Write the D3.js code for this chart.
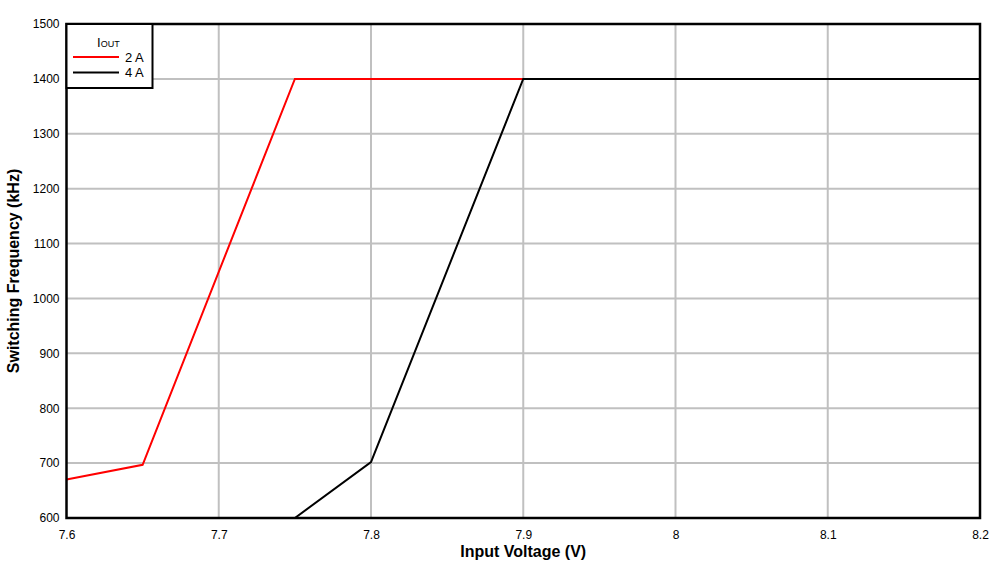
<!DOCTYPE html>
<html>
<head>
<meta charset="utf-8">
<script src="https://cdn.jsdelivr.net/npm/d3@7"></script>
<style>
body { margin: 0; background: #fff; }
text { font-family: "Liberation Sans", Arial, sans-serif; fill: #000; }
.tick text { font-size: 12px; }
.axisTitle { font-size: 16px; font-weight: bold; }
.grid line { stroke: #c0c0c0; stroke-width: 2; }
</style>
</head>
<body>
<script>
// series values
var series = ["2 A", "4 A"];
var colors = ["#ff0000", "#000000"];
var vin2A = [7.6, 7.65, 7.75, 7.9, 8.2];
var freq2A = [670, 697, 1400, 1400, 1400];
var vin4A = [7.75, 7.8, 7.9, 8.2];
var freq4A = [600, 702, 1400, 1400];

// tick labels
var xTicks = [7.6, 7.7, 7.8, 7.9, 8, 8.1, 8.2];
var yTicks = [600, 700, 800, 900, 1000, 1100, 1200, 1300, 1400, 1500];

window.onload = drawChart;

function drawChart(){
    var width = 1006,
        height = 570;
    var left = 66.5, top = 24, right = 980, bottom = 518;

    var svg = d3.select("body")
        .append("svg")
        .attr("width", width)
        .attr("height", height);

    var x = d3.scaleLinear().domain([7.6, 8.2]).range([left, right]);
    var y = d3.scaleLinear().domain([600, 1500]).range([bottom, top]);

    //grid lines
    svg.append("g")
        .attr("class", "grid")
        .selectAll("line")
        .data(xTicks.slice(1, -1))
        .enter()
        .append("line")
        .attr("x1", function(d){ return x(d); })
        .attr("x2", function(d){ return x(d); })
        .attr("y1", top)
        .attr("y2", bottom);

    svg.append("g")
        .attr("class", "grid")
        .selectAll("line")
        .data(yTicks.slice(1, -1))
        .enter()
        .append("line")
        .attr("x1", left)
        .attr("x2", right)
        .attr("y1", function(d){ return y(d); })
        .attr("y2", function(d){ return y(d); });

    //axes, labels only
    var xAxis = svg.append("g")
        .attr("transform", "translate(0," + bottom + ")")
        .call(d3.axisBottom(x).tickValues(xTicks).tickSize(0).tickPadding(12)
            .tickFormat(function(d){ return String(d); }));
    xAxis.select(".domain").remove();

    var yAxis = svg.append("g")
        .attr("transform", "translate(" + left + ",0)")
        .call(d3.axisLeft(y).tickValues(yTicks).tickSize(0).tickPadding(7)
            .tickFormat(d3.format("d")));
    yAxis.select(".domain").remove();
    svg.selectAll(".tick text").attr("font-family", null).attr("font-size", null);

    //clip lines to plot area
    svg.append("clipPath")
        .attr("id", "plotClip")
        .append("rect")
        .attr("x", left)
        .attr("y", top)
        .attr("width", right - left)
        .attr("height", bottom - top);

    var line = d3.line()
        .x(function(d){ return x(d[0]); })
        .y(function(d){ return y(d[1]); });

    var data = [d3.zip(vin2A, freq2A), d3.zip(vin4A, freq4A)];

    svg.append("g")
        .attr("clip-path", "url(#plotClip)")
        .selectAll("path")
        .data(data)
        .enter()
        .append("path")
        .attr("d", line)
        .attr("fill", "none")
        .attr("stroke", function(d, i){ return colors[i]; })
        .attr("stroke-width", 2);

    //plot frame
    svg.append("rect")
        .attr("x", left)
        .attr("y", top)
        .attr("width", right - left)
        .attr("height", bottom - top)
        .attr("fill", "none")
        .attr("stroke", "#000")
        .attr("stroke-width", 2.5);

    //legend
    var legend = svg.append("g");
    legend.append("rect")
        .attr("x", left)
        .attr("y", top)
        .attr("width", 86)
        .attr("height", 64)
        .attr("fill", "#fff")
        .attr("stroke", "#000")
        .attr("stroke-width", 2);

    var title = legend.append("text")
        .attr("x", 97)
        .attr("y", 47)
        .attr("font-size", 13);
    title.append("tspan").text("I");
    title.append("tspan").attr("font-size", 9).text("OUT");

    series.forEach(function(s, i){
        var ly = 57 + i * 15.5;
        legend.append("line")
            .attr("x1", 73)
            .attr("x2", 119)
            .attr("y1", ly)
            .attr("y2", ly)
            .attr("stroke", colors[i])
            .attr("stroke-width", 2);
        legend.append("text")
            .attr("x", 125)
            .attr("y", ly + 4.5)
            .attr("font-size", 13)
            .text(s);
    });

    //axis titles
    svg.append("text")
        .attr("class", "axisTitle")
        .attr("x", (left + right) / 2)
        .attr("y", 557)
        .attr("text-anchor", "middle")
        .text("Input Voltage (V)");

    svg.append("text")
        .attr("class", "axisTitle")
        .attr("transform", "translate(19," + (top + bottom) / 2 + ") rotate(-90)")
        .attr("text-anchor", "middle")
        .text("Switching Frequency (kHz)");
}
</script>
</body>
</html>
